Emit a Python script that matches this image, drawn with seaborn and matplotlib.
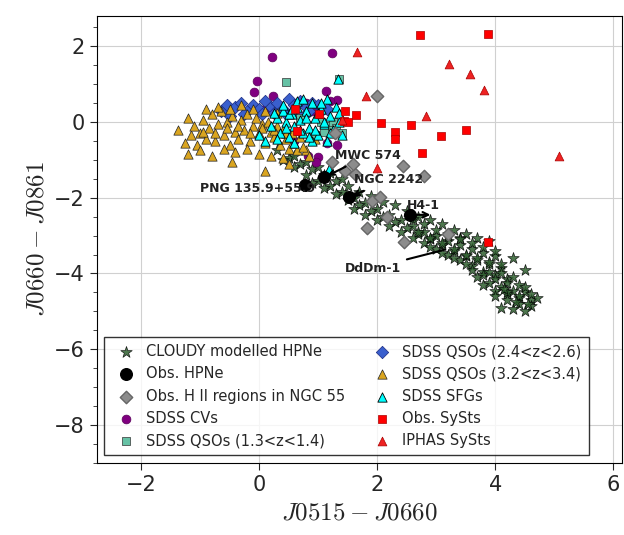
import numpy as np
import matplotlib.pyplot as plt
import seaborn as sns

# CLOUDY modelled HPNe (read along the band)
cloudy_x = [0.3, 0.5, 0.7, 0.9, 1.1, 1.3, 1.5, 1.7, 1.9, 2.1, 2.3, 2.5, 2.7, 2.9, 3.1, 3.3, 3.5, 3.7, 3.9,
            0.4, 0.6, 0.8, 1.0, 1.2, 1.4, 1.6, 1.8, 2.0, 2.2, 2.4, 2.6, 2.8, 3.0, 3.2, 3.4, 3.6, 3.8, 4.0,
            0.9, 1.1, 1.3, 1.5, 1.7, 1.9, 2.1, 2.3, 2.5, 2.7, 2.9, 3.1, 3.3, 3.5, 3.7, 3.9, 4.1,
            1.6, 1.8, 2.0, 2.2, 2.4, 2.6, 2.8, 3.0, 3.2, 3.4, 3.6, 3.8, 4.0, 4.2,
            3.6, 3.8, 4.0, 4.2, 4.4, 3.7, 3.9, 4.1, 4.3, 4.5, 3.8, 4.0, 4.2, 4.4, 4.6,
            4.0, 4.2, 4.4, 4.6, 4.7, 4.1, 4.3, 4.5, 4.3, 4.5, 3.3, 3.5, 3.1, 2.9, 3.4, 3.2,
            2.6, 2.8, 3.0, 3.2, 3.4, 3.6, 3.8, 4.0, 2.7, 2.9, 3.1, 3.3, 3.5, 3.7, 3.9, 4.1,
            3.9, 4.1, 4.3, 4.2, 4.4, 4.6, 4.5, 4.35, 4.55, 4.15, 0.6, 0.8, 1.0, 1.2, 1.4]
cloudy_y = [-0.75, -0.95, -1.1, -1.25, -1.4, -1.55, -1.7, -1.85, -1.95, -2.1, -2.2, -2.35, -2.5, -2.6, -2.7, -2.85, -2.95, -3.05, -3.15,
            -1.0, -1.2, -1.4, -1.55, -1.7, -1.85, -2.0, -2.15, -2.3, -2.45, -2.6, -2.75, -2.9, -3.0, -3.15, -3.25, -3.35, -3.45, -3.55,
            -1.6, -1.75, -1.9, -2.05, -2.2, -2.35, -2.5, -2.65, -2.8, -2.95, -3.1, -3.25, -3.4, -3.55, -3.65, -3.75, -3.85,
            -2.3, -2.45, -2.6, -2.75, -2.9, -3.05, -3.2, -3.35, -3.5, -3.65, -3.8, -3.95, -4.05, -4.15,
            -3.9, -4.05, -4.15, -4.25, -4.3, -4.1, -4.25, -4.35, -4.45, -4.5, -4.3, -4.45, -4.55, -4.65, -4.7,
            -4.6, -4.7, -4.8, -4.85, -4.65, -4.9, -4.95, -5.0, -3.6, -3.9, -3.6, -3.75, -3.45, -3.3, -3.05, -2.95,
            -2.55, -2.7, -2.85, -3.0, -3.1, -3.2, -3.3, -3.4, -2.9, -3.05, -3.2, -3.35, -3.5, -3.6, -3.7, -3.75,
            -3.95, -4.0, -4.1, -4.5, -4.6, -4.55, -4.35, -4.75, -4.8, -4.4, -0.9, -1.05, -1.2, -1.35, -1.5]

# Observed HPNe
hpne_x = [0.78, 1.1, 1.52, 2.55]
hpne_y = [-1.65, -1.45, -1.98, -2.45]

# H II regions in NGC 55
hii_x = [2.0, 2.44, 2.8, 1.24, 1.63, 1.59, 1.92, 2.05, 2.17, 1.83, 2.46, 3.2, 1.29, 1.45]
hii_y = [0.68, -1.16, -1.42, -1.05, -1.37, -1.1, -2.08, -1.97, -2.5, -2.8, -3.16, -2.95, -0.29, -1.3]

# SDSS CVs
cv_x = [0.22, 1.24, -0.03, 1.14, -0.08, 0.24, 1.32, 1.32, 1.15, 0.83, 1.0, 0.96, 0.8, 0.9, 0.6, 0.9, 1.2, 0.1]
cv_y = [1.71, 1.82, 1.08, 0.82, 0.8, 0.68, 0.58, -0.6, -0.55, -0.89, -0.92, -1.05, 0.5, 0.4, -0.5, 0.3, 0.55, 0.35]

# SDSS QSOs (1.3<z<1.4)
q13_x = [0.45, 1.35, 1.2, 1.1, 1.25, 0.95, 1.3, 1.05, 0.7, 1.4]
q13_y = [1.05, 1.15, -0.1, -0.25, 0.0, -0.35, -0.15, 0.0, 0.1, -0.3]

# SDSS QSOs (2.4<z<2.6)
q24_x = [-0.65, -0.55, -0.4, -0.3, -0.2, -0.1, 0.0, 0.1, 0.2, 0.3, 0.4, 0.5, 0.6, 0.7, 0.8, 0.9, 1.0,
         -0.5, -0.25, 0.05, 0.25, 0.45, 0.65, 0.85, 1.05, 1.15]
q24_y = [0.3, 0.45, 0.4, 0.5, 0.3, 0.45, 0.35, 0.55, 0.4, 0.5, 0.35, 0.6, 0.45, 0.55, 0.4, 0.5, 0.45,
         0.15, 0.2, 0.2, 0.25, 0.2, 0.25, 0.3, 0.3, 0.35]

# SDSS QSOs (3.2<z<3.4)
q32_x = [-1.38, -1.25, -1.2, -1.15, -1.1, -1.05, -1.0, -0.95, -0.9, -0.85, -0.8, -0.75, -0.7, -0.65,
         -0.6, -0.55, -0.5, -0.45, -0.4, -0.35, -0.3, -0.25, -0.2, -0.15, -0.1, -0.05, 0.0, 0.05,
         0.1, 0.15, 0.2, 0.25, 0.3, 0.35, 0.4, 0.45, 0.5, 0.55, 0.6, 0.7, 0.8,
         -1.2, -1.0, -0.9, -0.8, -0.7, -0.6, -0.5, -0.4, -0.3, -0.2, -0.1, 0.0, 0.1, 0.2, 0.3, 0.4,
         -0.95, -0.75, -0.55, -0.35, -0.15, 0.05, 0.25, 0.45, 0.65, 0.85, 0.5, 0.75, 0.95, -0.45, 0.1]
q32_y = [-0.2, -0.55, 0.1, -0.35, -0.1, -0.6, -0.3, 0.05, -0.45, -0.15, 0.2, -0.5, -0.05, 0.3,
         -0.35, 0.0, -0.6, 0.15, -0.25, -0.45, 0.05, -0.2, 0.2, -0.5, -0.1, 0.1, -0.3, -0.05,
         -0.55, 0.0, -0.25, -0.4, -0.1, -0.6, -0.2, -0.45, -0.7, -0.3, -0.55, -0.4, -0.75,
         -0.85, -0.75, 0.35, -0.9, 0.4, -0.7, 0.35, -0.8, 0.45, -0.7, 0.35, -0.85, 0.3, -0.9, 0.25, -0.95,
         -0.25, -0.3, -0.15, -0.1, -0.3, -0.15, -0.2, -0.3, -0.75, -0.9, -1.1, -0.65, -0.45, -1.05, -1.3]

# SDSS SFGs
sfg_x = [0.2, 0.3, 0.35, 0.4, 0.45, 0.5, 0.55, 0.6, 0.65, 0.7, 0.75, 0.8, 0.85, 0.9, 0.95, 1.0,
         1.05, 1.1, 1.15, 1.2, 1.25, 1.3, 1.35, 1.4, 0.3, 0.4, 0.5, 0.6, 0.7, 0.8, 0.9, 1.0, 1.1,
         1.2, 0.45, 0.65, 0.85, 1.05, 0.25, 0.55, 0.75, 0.95, 1.15, 1.35, 0.1, 1.33, 0.0, 1.18]
sfg_y = [-0.1, 0.1, -0.3, 0.3, 0.0, -0.4, 0.2, -0.1, 0.4, 0.05, -0.3, 0.3, -0.15, 0.5, 0.1, -0.35,
         0.35, -0.05, 0.6, 0.15, -0.2, 0.4, 0.0, -0.35, -0.45, 0.45, 0.2, -0.55, -0.2, 0.1, -0.5, 0.25,
         0.0, -0.3, -0.15, 0.55, -0.4, 0.5, 0.25, 0.35, 0.6, -0.2, -0.5, 0.25, -0.5, 1.15, -0.35, -1.25]

# Observed SySts
sys_x = [2.73, 3.88, 1.46, 1.64, 1.44, 1.5, 2.07, 2.3, 2.3, 2.58, 3.08, 2.76, 0.61, 0.64, 3.88, 3.5, 1.02]
sys_y = [2.29, 2.32, 0.29, 0.18, 0.03, 0.0, -0.03, -0.27, -0.45, -0.08, -0.37, -0.82, 0.34, -0.24, -3.16, -0.2, 0.22]

# IPHAS SySts
iphas_x = [1.66, 3.22, 3.58, 3.81, 5.08, 1.81, 2.83, 2.0, 1.4]
iphas_y = [1.84, 1.53, 1.26, 0.84, -0.89, 0.68, 0.16, -1.21, 0.05]

sns.set_style("whitegrid", {"axes.edgecolor": "black", "grid.color": "#d0d0d0"})
plt.rcParams['mathtext.fontset'] = 'cm'

fig, ax = plt.subplots(figsize=(6.24, 5.35), dpi=100)

ax.scatter(cloudy_x, cloudy_y, marker='*', s=75, color='#2f5f2f', edgecolor='black',
           linewidth=0.5, alpha=0.85, zorder=2, label='CLOUDY modelled HPNe')
ax.scatter(hpne_x, hpne_y, marker='o', s=70, color='black', zorder=6, label='Obs. HPNe')
ax.scatter(hii_x, hii_y, marker='D', s=40, color='#8c8c8c', edgecolor='#666666', zorder=5,
           label=r'Obs. H II regions in NGC 55')
ax.scatter(cv_x, cv_y, marker='o', s=40, color='purple', edgecolor='#5a005a', linewidth=0.5,
           zorder=3, label='SDSS CVs')
ax.scatter(q13_x, q13_y, marker='s', s=40, color='#66c2a5', edgecolor='#333333', linewidth=0.5,
           zorder=4, label='SDSS QSOs (1.3<z<1.4)')
ax.scatter(q24_x, q24_y, marker='D', s=40, color='#3a5fcd', edgecolor='#1a2a80', linewidth=0.5,
           zorder=3, label='SDSS QSOs (2.4<z<2.6)')
ax.scatter(q32_x, q32_y, marker='^', s=45, color='#daa520', edgecolor='#222222', linewidth=0.5,
           zorder=3, label='SDSS QSOs (3.2<z<3.4)')
ax.scatter(sfg_x, sfg_y, marker='^', s=45, color='cyan', edgecolor='black', linewidth=0.6,
           zorder=4, label='SDSS SFGs')
ax.scatter(sys_x, sys_y, marker='s', s=40, color='red', edgecolor='#aa0000', linewidth=0.5,
           zorder=5, label='Obs. SySts')
ax.scatter(iphas_x, iphas_y, marker='^', s=40, color='#ee2222', edgecolor='#aa0000', linewidth=0.5,
           zorder=5, label='IPHAS SySts')

ann = dict(fontsize=9, fontweight='bold', color='#222222', zorder=7)
arrow = dict(arrowstyle='->', color='black', lw=1.5)
ax.text(-1.0, -1.85, 'PNG 135.9+55.9', **ann)
ax.annotate('MWC 574', xy=(1.12, -1.45), xytext=(1.28, -0.98), arrowprops=arrow, **ann)
ax.annotate('NGC 2242', xy=(1.54, -1.98), xytext=(1.6, -1.62), arrowprops=arrow, **ann)
ax.text(2.5, -2.3, 'H4-1', **ann)
ax.annotate('', xy=(2.95, -2.45), xytext=(2.6, -2.45), arrowprops=arrow, zorder=7)
ax.annotate('DdDm-1', xy=(3.2, -3.35), xytext=(1.45, -3.95), arrowprops=dict(arrowstyle='-', color='black', lw=1.5), **ann)

ax.set_xlim(-2.75, 6.15)
ax.set_ylim(-9.0, 2.8)
ax.set_xticks([-2, 0, 2, 4, 6])
ax.set_yticks([-8, -6, -4, -2, 0, 2])
ax.set_yticks(np.arange(-9, 3, 0.5), minor=True)
ax.tick_params(axis='both', labelsize=15)
ax.tick_params(axis='y', which='minor', length=3, left=True)
ax.tick_params(axis='both', which='major', length=5, left=True, bottom=True)
ax.grid(which='minor', visible=False)
ax.set_xlabel(r'$J0515 - J0660$', fontsize=18)
ax.set_ylabel(r'$J0660 - J0861$', fontsize=18)

ax.legend(loc='lower left', ncol=2, fontsize=10.5, frameon=True, edgecolor='black',
          fancybox=False, handletextpad=0.4, columnspacing=1.5, borderpad=0.5)

plt.subplots_adjust(left=0.155, right=0.997, top=0.97, bottom=0.135)
plt.savefig('out.png', dpi=100)
